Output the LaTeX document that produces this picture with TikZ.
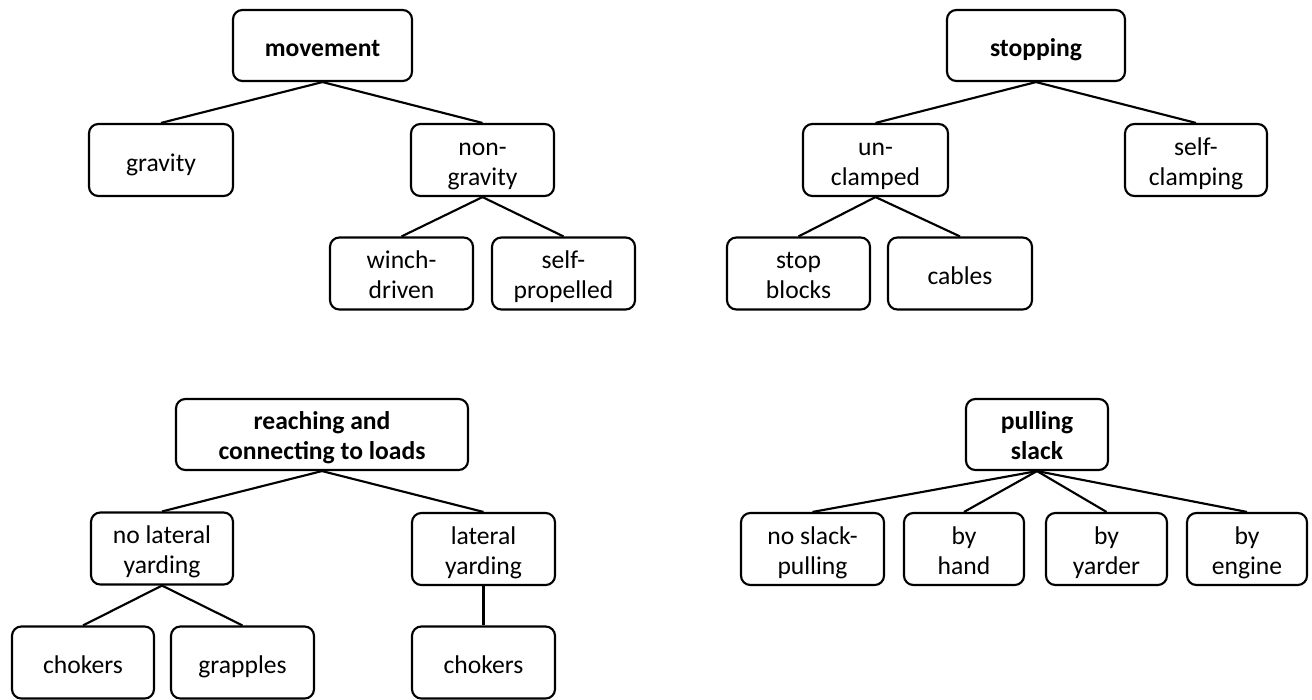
\documentclass[tikz,border=0pt]{standalone}
\usepackage{fontspec}
\setmainfont{Carlito}
\newcommand{\topstrut}{\vrule width 0pt height 22pt depth 0pt}
\newcommand{\ts}{\vrule width 0pt height 20.5pt depth 0pt}
\newcommand{\botstrut}{\vrule width 0pt height 0pt depth 5pt}
\begin{document}
\begin{tikzpicture}[x=0.75pt,y=-0.75pt,
  box/.style={draw=black, line width=1.6pt, rounded corners=7pt, fill=white,
    align=center, inner sep=0pt, minimum width=143*0.75pt, minimum height=72*0.75pt,
    font=\fontsize{19.2}{22.5}\selectfont,
    execute at begin node=\topstrut, execute at end node=\botstrut},
  root/.style={box, font=\fontsize{19.2}{22.5}\selectfont\bfseries, minimum height=71*0.75pt},
  link/.style={line width=1.6pt}]
\useasboundingbox (0,0) rectangle (1312,699);
% movement tree
\node[root, minimum width=179*0.75pt] (mov) at (322.5,45.5) {movement};
\node[box, minimum width=144*0.75pt] (grav) at (161,160) {gravity};
\node[box] (nong) at (482.5,160) {\ts non-\\gravity};
\node[box] (winch) at (401.5,273.5) {\ts winch-\\driven};
\node[box] (selfp) at (563.5,273.5) {\ts self-\\propelled};
\draw[link] (mov.south) -- (grav.north);
\draw[link] (mov.south) -- (nong.north);
\draw[link] (nong.south) -- (winch.north);
\draw[link] (nong.south) -- (selfp.north);
% stopping tree
\node[root, minimum width=178*0.75pt] (stop) at (1036,45.5) {stopping};
\node[box, minimum width=145*0.75pt] (uncl) at (875.5,160) {\ts un-\\clamped};
\node[box, minimum width=142*0.75pt] (selfc) at (1196,160) {\ts self-\\clamping};
\node[box] (sblk) at (798.5,273.5) {\ts stop\\blocks};
\node[box, minimum width=144*0.75pt] (cab) at (960,273.5) {cables};
\draw[link] (stop.south) -- (uncl.north);
\draw[link] (stop.south) -- (selfc.north);
\draw[link] (uncl.south) -- (sblk.north);
\draw[link] (uncl.south) -- (cab.north);
% reaching tree
\node[root, minimum width=292*0.75pt] (reach) at (322,434.5) {\ts reaching and\\connecting to loads};
\node[box, minimum width=142*0.75pt] (nolat) at (162,548.5) {\ts no lateral\\yarding};
\node[box] (lat) at (483.5,549) {\ts lateral\\yarding};
\node[box, minimum width=142*0.75pt] (chok) at (83,662.5) {chokers};
\node[box] (grap) at (242.5,662.5) {grapples};
\node[box] (chokb) at (483.5,662.5) {chokers};
\draw[link] (reach.south) -- (nolat.north);
\draw[link] (reach.south) -- (lat.north);
\draw[link] (nolat.south) -- (chok.north);
\draw[link] (nolat.south) -- (grap.north);
\draw[link] (lat.south) -- (chokb.north);
% pulling slack tree
\node[root, minimum width=142*0.75pt] (pull) at (1037,434.5) {\ts pulling\\slack};
\node[box] (nosl) at (812.5,549) {\ts no slack-\\pulling};
\node[box, minimum width=120*0.75pt] (hand) at (964,549) {\ts by\\hand};
\node[box, minimum width=121*0.75pt] (yard) at (1106.5,549) {\ts by\\yarder};
\node[box, minimum width=120*0.75pt] (eng) at (1247,549) {\ts by\\engine};
\draw[link] (pull.south) -- (nosl.north);
\draw[link] (pull.south) -- (hand.north);
\draw[link] (pull.south) -- (yard.north);
\draw[link] (pull.south) -- (eng.north);
\end{tikzpicture}
\end{document}
